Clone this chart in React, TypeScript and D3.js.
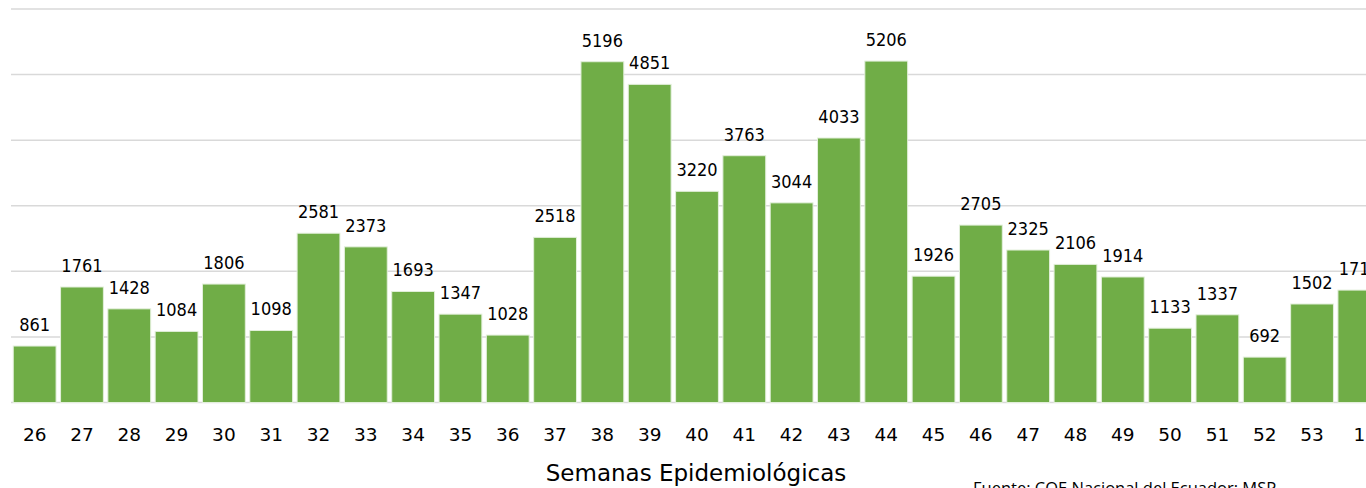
import React from "react";
import * as d3 from "d3";

const weeks = ["26","27","28","29","30","31","32","33","34","35","36","37","38","39","40","41","42","43","44","45","46","47","48","49","50","51","52","53","1"];
const cases = [861,1761,1428,1084,1806,1098,2581,2373,1693,1347,1028,2518,5196,4851,3220,3763,3044,4033,5206,1926,2705,2325,2106,1914,1133,1337,692,1502,1714];
const gridTicks = [0,1000,2000,3000,4000,5000,6000];
const axisTitle = "Semanas Epidemiológicas";
const sourceText = "Fuente: COE Nacional del Ecuador; MSP";

export default function App() {
  const W = 1366, H = 488;
  const x = d3.scaleBand<string>().domain(weeks).range([11, 1383]).paddingInner(0.095).paddingOuter(0.0475);
  const y = d3.scaleLinear().domain([0, 6000]).range([402.5, 9]);
  const font = "'DejaVu Sans', sans-serif";
  const condensed = "'DejaVu Sans Condensed', 'DejaVu Sans', sans-serif";
  return (
    <svg width={W} height={H} style={{ position: "fixed", left: 0, top: 0, background: "#fff" }}>
      {gridTicks.map((t) => (
        <line key={t} x1={11} x2={W} y1={y(t)} y2={y(t)} stroke="#d9d9d9" strokeWidth={1.5} />
      ))}
      {weeks.map((w, i) => (
        <rect key={w} x={x(w)} y={y(cases[i])} width={x.bandwidth()} height={y(0) - y(cases[i])}
          fill="#70ad47" stroke="#e2efda" strokeWidth={1} />
      ))}
      {weeks.map((w, i) => (
        <text key={"l" + w} x={(x(w) as number) + x.bandwidth() / 2} y={y(cases[i]) - 15}
          textAnchor="middle" fontFamily={condensed} fontStretch="condensed" fontSize={18} fill="#000">{cases[i]}</text>
      ))}
      {weeks.map((w) => (
        <text key={"t" + w} x={(x(w) as number) + x.bandwidth() / 2} y={441}
          textAnchor="middle" fontFamily={font} fontSize={18.5} fill="#000">{w}</text>
      ))}
      <text x={696} y={481} textAnchor="middle" fontFamily={font} fontSize={23} fill="#000">{axisTitle}</text>
      <text x={973} y={494} fontFamily="'Open Sans', sans-serif" fontSize={16.5} fill="#000">{sourceText}</text>
    </svg>
  );
}
